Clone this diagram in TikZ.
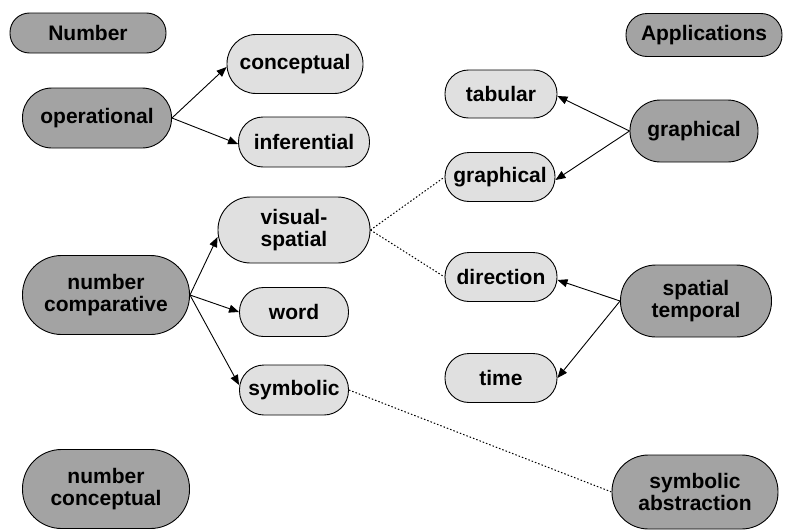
\documentclass[tikz,border=0pt]{standalone}
\usepackage{fontspec}
\setmainfont{Liberation Sans}
\usetikzlibrary{arrows.meta}
\definecolor{darkfill}{HTML}{A3A3A3}
\definecolor{lightfill}{HTML}{E0E0E0}
\tikzset{
  pill/.style={draw=black, line width=0.9pt, inner sep=0pt, align=center,
    font=\fontsize{21}{22.5}\selectfont\bfseries},
  darkpill/.style={pill, fill=darkfill},
  lightpill/.style={pill, fill=lightfill},
  arr/.style={line width=0.9pt, -{Triangle[length=10pt,width=8pt]}},
  dot/.style={line width=1pt, dash pattern=on 1.5pt off 2pt},
}
\newcommand{\pillnode}[6]{% style, name, x, y, w, h, text
  \node[#1, minimum width=#5pt, minimum height=#6pt, rounded corners=#6pt/2-0.5pt] (#2) at (#3,#4)}
\begin{document}
\begin{tikzpicture}[x=1pt,y=-1pt]
\useasboundingbox (0,0) rectangle (787,530);
% left column
\pillnode{darkpill}{number}{88}{33}{156}{40} {Number};
\pillnode{darkpill}{oper}{97}{118}{149}{60} {operational};
\pillnode{darkpill}{ncomp}{106}{295}{167}{79} {number\\comparative};
\pillnode{darkpill}{nconc}{106}{489}{167}{79} {number\\conceptual};
% middle-left
\pillnode{lightpill}{concep}{295}{64}{136}{59} {conceptual};
\pillnode{lightpill}{infer}{304}{142}{131}{50} {inferential};
\pillnode{lightpill}{visual}{294}{230}{152}{66} {visual-\\spatial};
\pillnode{lightpill}{word}{294}{312}{109}{49} {word};
\pillnode{lightpill}{symb}{294}{390}{109}{50} {symbolic};
% middle-right
\pillnode{lightpill}{tab}{501}{94}{112}{48} {tabular};
\pillnode{lightpill}{graphl}{500}{177}{110}{49} {graphical};
\pillnode{lightpill}{dir}{501}{277}{112}{49} {direction};
\pillnode{lightpill}{time}{501}{378}{112}{49} {time};
% right column
\pillnode{darkpill}{appl}{704}{35}{156}{43} {Applications};
\pillnode{darkpill}{graphd}{694}{131}{128}{62} {graphical};
\pillnode{darkpill}{spat}{696}{301}{151}{72} {spatial\\temporal};
\pillnode{darkpill}{sabs}{695}{492}{166}{74} {symbolic\\abstraction};
% arrows
\draw[arr] (oper.east) -- ([yshift=-3pt]concep.west);
\draw[arr] (oper.east) -- ([yshift=-2pt]infer.west);
\draw[arr] (ncomp.east) -- ([yshift=-7pt]visual.west);
\draw[arr] (ncomp.east) -- (word.west);
\draw[arr] (ncomp.east) -- ([yshift=5pt]symb.west);
\draw[arr] (graphd.west) -- ([yshift=-2pt]tab.east);
\draw[arr] (graphd.west) -- ([yshift=-3pt]graphl.east);
\draw[arr] (spat.west) -- ([yshift=-3pt]dir.east);
\draw[arr] (spat.west) -- (time.east);
% dotted links
\draw[dot] (visual.east) -- (graphl.west);
\draw[dot] (visual.east) -- (dir.west);
\draw[dot] (symb.east) -- (sabs.west);
\end{tikzpicture}
\end{document}
